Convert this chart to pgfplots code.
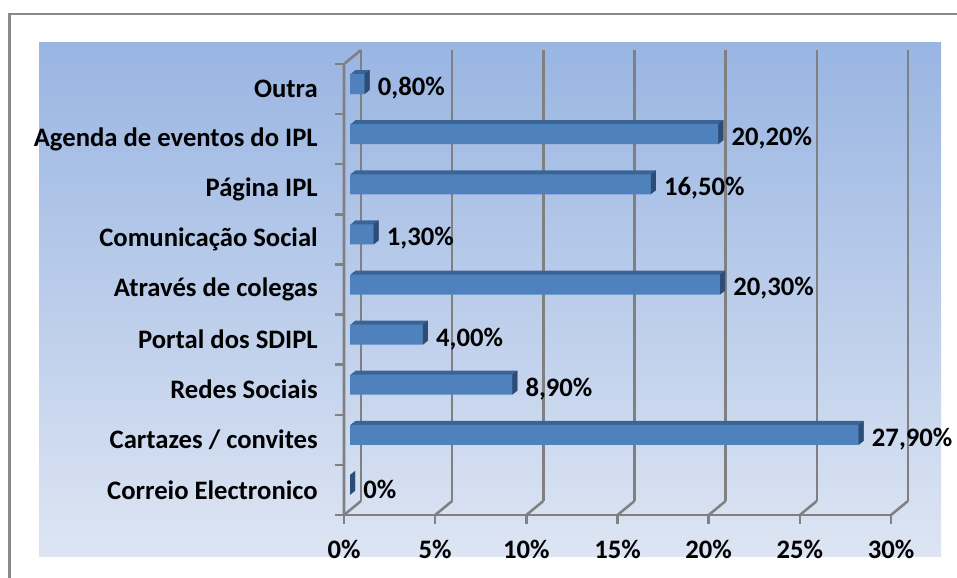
\documentclass[border=0pt]{standalone}
\usepackage{pgfplots}
\pgfplotsset{compat=1.18}
\usepackage{pgfplotstable}
\usepackage{fontspec}
\setmainfont{Carlito}

\definecolor{framegray}{RGB}{138,138,138}
\definecolor{gridgray}{RGB}{128,128,128}
\definecolor{bgtop}{RGB}{153,181,226}
\definecolor{bgbot}{RGB}{221,229,243}
\definecolor{barfront}{RGB}{79,129,189}
\definecolor{bartop}{RGB}{58,100,152}
\definecolor{barside}{RGB}{44,77,117}

\newcommand\lab{\fontsize{20pt}{24pt}\selectfont\bfseries}

% right end face of a 3d bar, drawn at the end of the front face
\pgfdeclareplotmark{rface}{%
  \pgfpathmoveto{\pgfqpoint{0pt}{-7.5pt}}%
  \pgfpathlineto{\pgfqpoint{0pt}{7.5pt}}%
  \pgfpathlineto{\pgfqpoint{3.75pt}{10.5pt}}%
  \pgfpathlineto{\pgfqpoint{3.75pt}{-4.5pt}}%
  \pgfpathclose\pgfusepathqfill}

\tikzset{gridline/.style={draw=gridgray, line width=1.9pt}}

\pgfplotstableread{
y v lab
0 0 0
1 27.9 27,90
2 8.9 8,90
3 4.0 4,00
4 20.3 20,30
5 1.3 1,30
6 16.5 16,50
7 20.2 20,20
8 0.8 0,80
}\data

\pgfplotsset{
  bar3d/.style={xbar, bar width=15pt, bar shift=0pt, draw=none},
}

\begin{document}
\begin{tikzpicture}
\path[use as bounding box] (0,0) rectangle (717.75pt,433.5pt);
\fill[top color=bgtop, bottom color=bgbot] (29.25pt,15.75pt) rectangle (705.75pt,401.25pt);
\draw[framegray, line width=1.6pt] (7.125pt,-2pt) -- (7.125pt,423pt) -- (720pt,423pt);

\begin{axis}[
  at={(258pt,47.25pt)}, anchor=south west,
  scale only axis, width=410.25pt, height=338.25pt,
  xmin=0, xmax=30, ymin=-0.5, ymax=8.5,
  clip=false,
  axis line style={draw=none},
  major tick length=0pt,
  xtick={0,5,...,30},
  xticklabels={0\%,5\%,10\%,15\%,20\%,25\%,30\%},
  ytick={0,...,8},
  yticklabels={Correio Electronico, Cartazes / convites, Redes Sociais, Portal dos SDIPL, Através de colegas, Comunicação Social, Página IPL, Agenda de eventos do IPL, Outra},
  ticklabel style={font=\lab, inner sep=0pt},
  xticklabel style={anchor=center, yshift=-25.5pt},
  yticklabel style={anchor=east, xshift=-19.5pt},
]

% walls and floor
\pgfplotsinvokeforeach{0,5,...,30}{
  \draw[gridline] ([xshift=12.75pt,yshift=10.5pt]axis cs:#1,-0.5) -- ([xshift=12.75pt,yshift=10.5pt]axis cs:#1,8.5);
  \draw[gridline] (axis cs:#1,-0.5) -- ++(12.75pt,10.5pt);
  \draw[gridline] (axis cs:#1,-0.5) -- ++(0pt,-6.75pt);
}
\draw[gridline] ([xshift=-6.75pt]axis cs:0,-0.5) -- (axis cs:30,-0.5);
\draw[gridline] (axis cs:0,-0.5) -- (axis cs:0,8.5) -- ++(12.75pt,10.5pt);
\pgfplotsinvokeforeach{0.5,1.5,...,8.5}{
  \draw[gridline] (axis cs:0,#1) -- ++(-6.75pt,0pt);
}

% top faces: stacked copies between the front and back faces
\addplot[bar3d, fill=bartop, xshift=5.25pt, yshift=4.35pt] table[x=v, y=y] {\data};
\addplot[bar3d, fill=bartop, xshift=6pt, yshift=4.95pt] table[x=v, y=y] {\data};
\addplot[bar3d, fill=bartop, xshift=6.75pt, yshift=5.55pt] table[x=v, y=y] {\data};
\addplot[bar3d, fill=bartop, xshift=7.5pt, yshift=6.15pt] table[x=v, y=y] {\data};
\addplot[bar3d, fill=bartop, xshift=8.25pt, yshift=6.75pt] table[x=v, y=y] {\data};

% right end faces
\addplot[only marks, mark=rface, color=barside, mark options={fill=barside, draw=none},
  xshift=4.5pt, yshift=3.75pt] table[x=v, y=y] {\data};

% front faces with value labels
\addplot[bar3d, fill=barfront, xshift=4.5pt, yshift=3.75pt,
  point meta=explicit symbolic,
  nodes near coords={\pgfplotspointmeta\%},
  nodes near coords style={anchor=west, xshift=9.75pt, yshift=-3pt, inner sep=0pt, font=\lab, text=black},
] table[x=v, y=y, meta=lab] {\data};

\end{axis}
\end{tikzpicture}
\end{document}
